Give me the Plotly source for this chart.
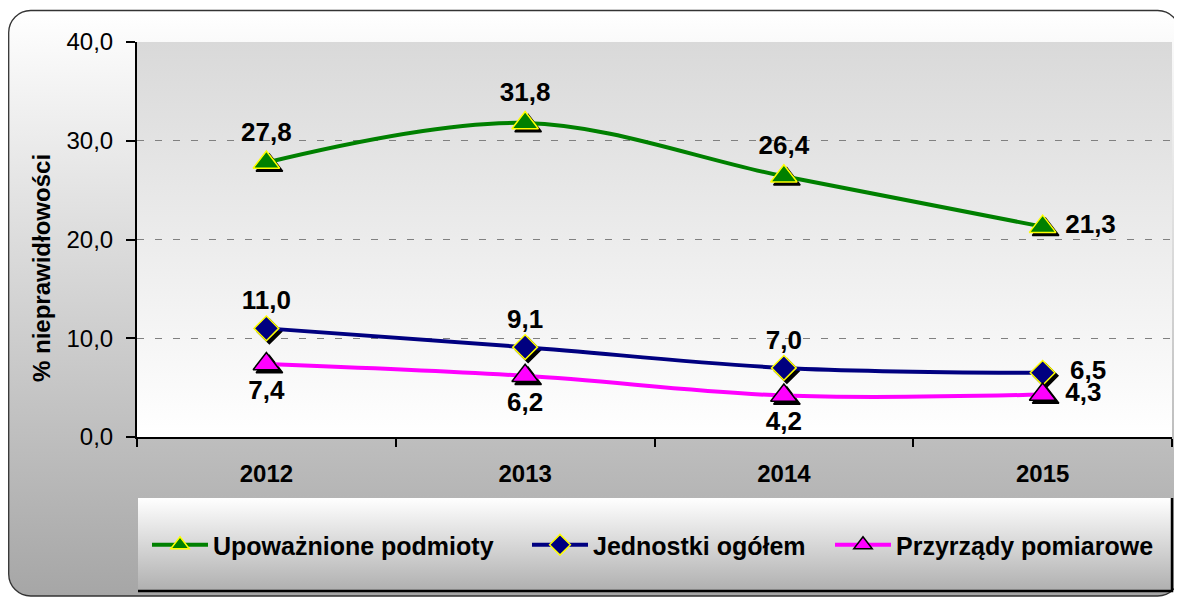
import base64
import plotly.graph_objects as go

# ---- data ----
years = ["2012", "2013", "2014", "2015"]
upowaznione = [27.8, 31.8, 26.4, 21.3]
jednostki = [11.0, 9.1, 7.0, 6.5]
przyrzady = [7.4, 6.2, 4.2, 4.3]
series_names = ["Upoważnione podmioty", "Jednostki ogółem", "Przyrządy pomiarowe"]
y_title = "% nieprawidłowości"

# page has an 8px body margin -> figure is drawn in page coords minus 8
OFF = 8
W, H = 1182 - OFF, 597 - OFF
L, T = 137 - OFF, 42 - OFF
PW, PH = 1035, 395
R, B = W - L - PW, H - T - PH
xpos = list(range(len(years)))
YMAX = 40

FONT = "Liberation Sans, Arial, sans-serif"


def px_x(page_x):
    return (page_x - OFF - L) / PW


def px_y(page_y):
    return (T + PH - (page_y - OFF)) / PH


# pixel -> data offsets for the drop shadow of markers
dx = 3 / (PW / len(years))
dy = -3 / (PH / YMAX)

svg = f'''<svg xmlns="http://www.w3.org/2000/svg" width="{W}" height="{H}" viewBox="0 0 {W} {H}">
<defs>
<linearGradient id="g1" x1="0" y1="0" x2="0" y2="1"><stop offset="0" stop-color="#ffffff"/><stop offset="1" stop-color="#a6a6a6"/></linearGradient>
<linearGradient id="g2" x1="0" y1="0" x2="0" y2="1"><stop offset="0" stop-color="#d9d9d9"/><stop offset="1" stop-color="#ffffff"/></linearGradient>
<linearGradient id="g3" x1="0" y1="0" x2="0" y2="1"><stop offset="0" stop-color="#ffffff"/><stop offset="1" stop-color="#b0b0b0"/></linearGradient>
</defs>
<rect x="0.7" y="2.5" width="1171" height="585.5" rx="22" ry="22" fill="url(#g1)" stroke="#333333" stroke-width="1.3"/>
<rect x="{L}" y="{T}" width="{PW}" height="{PH}" fill="url(#g2)"/>
<rect x="130" y="490" width="1033" height="92" fill="url(#g3)"/>
<path d="M130,583 H1164 V490" stroke="#000000" stroke-width="2.5" fill="none"/>
</svg>'''
src = "data:image/svg+xml;base64," + base64.b64encode(svg.encode("utf-8")).decode("ascii")

NB = "\u00a0"
styles = [
    dict(vals=upowaznione, color="#008000", symbol="triangle-up", size=23, edge="#FFFF00",
         pos=["top center", "top center", "top center", "middle right"], pad=NB, legend="legend"),
    dict(vals=jednostki, color="#000080", symbol="diamond", size=19, edge="#FFFF00",
         pos=["top center", "top center", "top center", "middle right"], pad=NB * 2, legend="legend2"),
    dict(vals=przyrzady, color="#FF00FF", symbol="triangle-up", size=23, edge="#000000",
         pos=["bottom center", "bottom center", "bottom center", "middle right"], pad=NB, legend="legend3"),
]

fig = go.Figure()

# marker drop shadows
for s in styles:
    fig.add_trace(go.Scatter(
        x=[x + dx for x in xpos], y=[v + dy for v in s["vals"]], mode="markers",
        marker=dict(symbol=s["symbol"], size=s["size"], color="#000000",
                    line=dict(color="#000000", width=1.5)),
        showlegend=False, hoverinfo="skip"))

for name, s in zip(series_names, styles):
    tmpl = [(s["pad"] if p == "middle right" else "") + "%{y:.1f}" for p in s["pos"]]
    fig.add_trace(go.Scatter(
        x=xpos, y=s["vals"], name=name, mode="lines+markers+text", legend=s["legend"],
        line=dict(color=s["color"], width=4, shape="spline", smoothing=1),
        marker=dict(symbol=s["symbol"], size=s["size"], color=s["color"],
                    line=dict(color=s["edge"], width=1.5)),
        texttemplate=tmpl, textposition=s["pos"],
        textfont=dict(family=FONT, size=26, color="#000000", weight="bold"),
        hoverinfo="skip", cliponaxis=False))

legend_font = dict(family=FONT, size=25, color="#000000", weight="bold")
legend_common = dict(orientation="h", xanchor="left", y=px_y(545), yanchor="middle",
                     bgcolor="rgba(0,0,0,0)", itemwidth=56, font=legend_font)

fig.update_layout(
    width=W, height=H,
    margin=dict(l=L, r=R, t=T, b=B, pad=0),
    paper_bgcolor="#ffffff", plot_bgcolor="rgba(0,0,0,0)",
    separators=", ",
    font=dict(family=FONT, color="#000000"),
    images=[dict(source=src, xref="paper", yref="paper", x=-L / PW, y=(PH + T) / PH,
                 sizex=W / PW, sizey=H / PH, sizing="stretch", xanchor="left",
                 yanchor="top", layer="below")],
    xaxis=dict(range=[-0.5, len(years) - 0.5], tickvals=xpos, ticktext=years,
               ticks="", showgrid=False, zeroline=False,
               showline=True, linecolor="#000000", linewidth=2,
               tickfont=dict(family=FONT, size=24, color="#000000", weight="bold"),
               ticklabelstandoff=14,
               minor=dict(tickvals=[x - 0.5 for x in xpos] + [len(years) - 0.5],
                          ticks="outside", ticklen=8, tickwidth=2, tickcolor="#000000",
                          showgrid=False)),
    yaxis=dict(range=[0, YMAX], dtick=10, tickformat=".1f", ticks="outside",
               ticklen=9, tickwidth=2, tickcolor="#000000",
               showline=True, linecolor="#000000", linewidth=2, zeroline=False,
               showgrid=True, gridcolor="#808080", gridwidth=1.3, griddash="7px,11px",
               tickfont=dict(family=FONT, size=24, color="#000000"),
               ticklabelstandoff=8),
    legend=dict(x=px_x(147), **legend_common),
    legend2=dict(x=px_x(527), **legend_common),
    legend3=dict(x=px_x(830), **legend_common),
    annotations=[dict(text=y_title, textangle=-90, xref="paper", yref="paper",
                      x=px_x(41), y=px_y(268), showarrow=False,
                      xanchor="center", yanchor="middle",
                      font=dict(family=FONT, size=24, color="#000000", weight="bold"))],
)

fig.write_html("out.html")
